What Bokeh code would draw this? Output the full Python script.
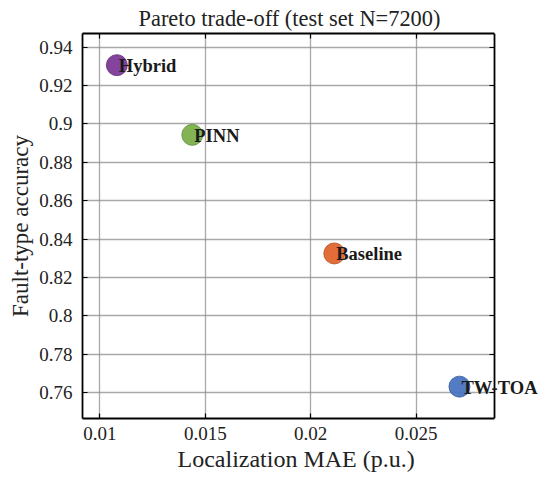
from bokeh.plotting import figure
from bokeh.models import ColumnDataSource, LabelSet, LinearAxis, FixedTicker, Range1d, Grid, Title
from bokeh.embed import file_html
from bokeh.resources import INLINE

# ---- data ----
methods = ["Hybrid", "PINN", "Baseline", "TW-TOA"]
mae = [0.0108, 0.01438, 0.02112, 0.02706]
accuracy = [0.9306, 0.8943, 0.8325, 0.7631]
colors = ["#7d3a98", "#7cb04a", "#e0652e", "#4a75c2"]
edge_colors = ["#5e2a74", "#5e8a36", "#b24d22", "#35599a"]

x_ticks = [0.01, 0.015, 0.02, 0.025]
x_tick_labels = ["0.01", "0.015", "0.02", "0.025"]
y_ticks = [0.76, 0.78, 0.80, 0.82, 0.84, 0.86, 0.88, 0.90, 0.92, 0.94]
y_tick_labels = ["0.76", "0.78", "0.8", "0.82", "0.84", "0.86", "0.88", "0.9", "0.92", "0.94"]

title_text = "Pareto trade-off (test set N=7200)"
x_label = "Localization MAE (p.u.)"
y_label = "Fault-type accuracy"

# axes box limits
x0, x1 = 0.00917, 0.0287
y0, y1 = 0.7465, 0.9471

FONT = "Liberation Serif"

# the box is 411.5 px wide; the frame extends further right so labels are not clipped
BOX_W = 411.5
FRAME_W = 462
FRAME_H = 385
x_end = x0 + (x1 - x0) * FRAME_W / BOX_W

src = ColumnDataSource(dict(x=mae, y=accuracy, name=methods, color=colors, edge=edge_colors))

p = figure(frame_width=FRAME_W, frame_height=FRAME_H, output_backend="svg", toolbar_location=None,
           x_range=Range1d(x0, x_end), y_range=Range1d(y0, y1),
           min_border_left=82, min_border_right=0, min_border_top=31, min_border_bottom=59)

p.title.text = title_text
p.title.align = "left"
p.title.offset = 56
p.title.text_font = FONT
p.title.text_font_style = "normal"
p.title.text_font_size = "22.4px"
p.title.text_color = "#222222"
if "standoff" in Title.properties():
    p.title.standoff = 6

p.outline_line_color = None

p.xaxis.ticker = FixedTicker(ticks=x_ticks)
p.yaxis.ticker = FixedTicker(ticks=y_ticks)
p.xaxis.major_label_overrides = {t: l for t, l in zip(x_ticks, x_tick_labels)}
p.yaxis.major_label_overrides = {t: l for t, l in zip(y_ticks, y_tick_labels)}
p.yaxis.axis_label = y_label
p.xaxis.bounds = (x0, x1)

for ax in [p.xaxis[0], p.yaxis[0]]:
    ax.axis_line_color = "black"
    ax.axis_line_width = 1.8
    ax.major_tick_in = 5
    ax.major_tick_out = 0
    ax.major_tick_line_color = "black"
    ax.major_tick_line_width = 1.2
    ax.minor_tick_line_color = None
    ax.major_label_text_font = FONT
    ax.major_label_text_font_size = "19px"
    ax.major_label_text_color = "#222222"
    ax.axis_label_text_font = FONT
    ax.axis_label_text_font_size = "23px"
    ax.axis_label_text_font_style = "normal"
    ax.axis_label_text_color = "#222222"
p.xaxis.major_label_standoff = 8
p.yaxis.major_label_standoff = 10
p.yaxis.axis_label_standoff = 3

# x-axis label placed as a title below the axis so it can be centred on the box
xlab = Title(text=x_label, align="left", offset=95, text_font=FONT, text_font_style="normal",
             text_font_size="24px", text_color="#222222")
if "standoff" in Title.properties():
    xlab.standoff = 2
p.add_layout(xlab, "below")

# mirrored box edges with inward ticks on top and right
top = LinearAxis(ticker=FixedTicker(ticks=x_ticks), bounds=(x0, x1))
right = LinearAxis(ticker=FixedTicker(ticks=y_ticks), fixed_location=x1)
for ax in [top, right]:
    ax.axis_line_color = "black"
    ax.axis_line_width = 1.8
    ax.major_tick_in = 5
    ax.major_tick_out = 0
    ax.major_tick_line_color = "black"
    ax.major_tick_line_width = 1.2
    ax.minor_tick_line_color = None
    ax.major_label_text_font_size = "1px"
    ax.major_label_text_color = None
    ax.major_label_standoff = 0
p.add_layout(top, "above")
p.add_layout(right, "right")

p.xgrid.ticker = FixedTicker(ticks=x_ticks)
p.ygrid.ticker = FixedTicker(ticks=y_ticks)
if "cross_bounds" in Grid.properties():
    p.ygrid.cross_bounds = (x0, x1)
p.grid.grid_line_color = "#8c8c8c"
p.grid.grid_line_width = 1.3
p.grid.grid_line_alpha = 0.75

p.scatter("x", "y", source=src, size=21, fill_color="color", line_color="edge",
          line_width=0.8, fill_alpha=0.95)

labels = LabelSet(x="x", y="y", text="name", source=src, x_offset=2, y_offset=-1,
                  text_font=FONT, text_font_style="bold", text_font_size="18.5px",
                  text_baseline="middle", text_align="left", text_color="#1a1a1a")
p.add_layout(labels)

open("out.html", "w").write(file_html(p, INLINE))
